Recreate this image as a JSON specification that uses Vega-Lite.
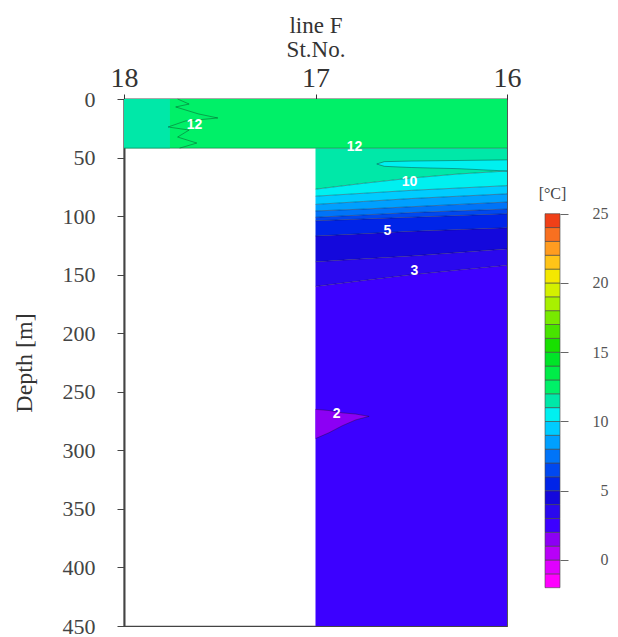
{
  "$schema": "https://vega.github.io/schema/vega-lite/v6.json",
  "background": "white",
  "padding": {"left": 11, "top": 13, "right": 5, "bottom": 5},
  "config": {"view": {"stroke": null}, "font": "Liberation Serif"},
  "spacing": 16,
  "datasets": {
    "bands": [
      {"key": 13, "part": "b13", "st": 18, "top": 0, "bot": 42},
      {"key": 13, "part": "b13", "st": 17, "top": 0, "bot": 42},
      {"key": 13, "part": "b13", "st": 16, "top": 0, "bot": 42},
      {"key": 12, "part": "b12", "st": 17, "top": 42, "bot": 77},
      {"key": 12, "part": "b12", "st": 16.75, "top": 42, "bot": 72},
      {"key": 12, "part": "b12", "st": 16.5, "top": 42, "bot": 67.5},
      {"key": 12, "part": "b12", "st": 16.25, "top": 42, "bot": 64},
      {"key": 12, "part": "b12", "st": 16, "top": 42, "bot": 61.5},
      {"key": 11, "part": "b11", "st": 17, "top": 77, "bot": 83},
      {"key": 11, "part": "b11", "st": 16.75, "top": 72, "bot": 80.5},
      {"key": 11, "part": "b11", "st": 16.5, "top": 67.5, "bot": 78},
      {"key": 11, "part": "b11", "st": 16.25, "top": 64, "bot": 76},
      {"key": 11, "part": "b11", "st": 16, "top": 61.5, "bot": 74},
      {"key": 10, "part": "b10", "st": 17, "top": 83, "bot": 90},
      {"key": 10, "part": "b10", "st": 16.75, "top": 80.5, "bot": 87.5},
      {"key": 10, "part": "b10", "st": 16.5, "top": 78, "bot": 85},
      {"key": 10, "part": "b10", "st": 16.25, "top": 76, "bot": 83},
      {"key": 10, "part": "b10", "st": 16, "top": 74, "bot": 81},
      {"key": 9, "part": "b09", "st": 17, "top": 90, "bot": 95.6},
      {"key": 9, "part": "b09", "st": 16.75, "top": 87.5, "bot": 94},
      {"key": 9, "part": "b09", "st": 16.5, "top": 85, "bot": 92},
      {"key": 9, "part": "b09", "st": 16.25, "top": 83, "bot": 90},
      {"key": 9, "part": "b09", "st": 16, "top": 81, "bot": 88},
      {"key": 8, "part": "b08", "st": 17, "top": 95.6, "bot": 101},
      {"key": 8, "part": "b08", "st": 16.75, "top": 94, "bot": 99},
      {"key": 8, "part": "b08", "st": 16.5, "top": 92, "bot": 97},
      {"key": 8, "part": "b08", "st": 16.25, "top": 90, "bot": 95.5},
      {"key": 8, "part": "b08", "st": 16, "top": 88, "bot": 94},
      {"key": 7, "part": "b07", "st": 17, "top": 101, "bot": 104},
      {"key": 7, "part": "b07", "st": 16.75, "top": 99, "bot": 102.5},
      {"key": 7, "part": "b07", "st": 16.5, "top": 97, "bot": 101},
      {"key": 7, "part": "b07", "st": 16.25, "top": 95.5, "bot": 99.5},
      {"key": 7, "part": "b07", "st": 16, "top": 94, "bot": 98},
      {"key": 6, "part": "b06", "st": 17, "top": 104, "bot": 117},
      {"key": 6, "part": "b06", "st": 16.75, "top": 102.5, "bot": 115},
      {"key": 6, "part": "b06", "st": 16.5, "top": 101, "bot": 113},
      {"key": 6, "part": "b06", "st": 16.25, "top": 99.5, "bot": 111.5},
      {"key": 6, "part": "b06", "st": 16, "top": 98, "bot": 110},
      {"key": 5, "part": "b05", "st": 17, "top": 117, "bot": 139},
      {"key": 5, "part": "b05", "st": 16.75, "top": 115, "bot": 136.5},
      {"key": 5, "part": "b05", "st": 16.5, "top": 113, "bot": 134},
      {"key": 5, "part": "b05", "st": 16.25, "top": 111.5, "bot": 131},
      {"key": 5, "part": "b05", "st": 16, "top": 110, "bot": 128},
      {"key": 4, "part": "b04", "st": 17, "top": 139, "bot": 160},
      {"key": 4, "part": "b04", "st": 16.75, "top": 136.5, "bot": 155},
      {"key": 4, "part": "b04", "st": 16.5, "top": 134, "bot": 150},
      {"key": 4, "part": "b04", "st": 16.25, "top": 131, "bot": 146},
      {"key": 4, "part": "b04", "st": 16, "top": 128, "bot": 142},
      {"key": 3, "part": "b03", "st": 17, "top": 160, "bot": 450},
      {"key": 3, "part": "b03", "st": 16.75, "top": 155, "bot": 450},
      {"key": 3, "part": "b03", "st": 16.5, "top": 150, "bot": 450},
      {"key": 3, "part": "b03", "st": 16.25, "top": 146, "bot": 450},
      {"key": 3, "part": "b03", "st": 16, "top": 142, "bot": 450}
    ],
    "tongues": [
      {"key": 12, "part": "tL", "st": 18, "top": 0, "bot": 42},
      {"key": 12, "part": "tL", "st": 17.76, "top": 0, "bot": 42},
      {"key": 11, "part": "t11", "st": 16.68, "top": 55.5, "bot": 55.5},
      {"key": 11, "part": "t11", "st": 16.64, "top": 53.5, "bot": 57.5},
      {"key": 11, "part": "t11", "st": 16.5, "top": 53, "bot": 58.5},
      {"key": 11, "part": "t11", "st": 16.25, "top": 52.5, "bot": 59.5},
      {"key": 11, "part": "t11", "st": 16, "top": 52, "bot": 61.5},
      {"key": 2, "part": "t2", "st": 17, "top": 265, "bot": 290},
      {"key": 2, "part": "t2", "st": 16.93, "top": 266, "bot": 285},
      {"key": 2, "part": "t2", "st": 16.86, "top": 268, "bot": 279},
      {"key": 2, "part": "t2", "st": 16.79, "top": 269, "bot": 274},
      {"key": 2, "part": "t2", "st": 16.72, "top": 271, "bot": 271}
    ],
    "lines": [
      {"c": "c12", "i": 0, "st": 18, "d": 42}, {"c": "c12", "i": 1, "st": 16, "d": 42},
      {"c": "c11", "i": 0, "st": 17, "d": 77}, {"c": "c11", "i": 1, "st": 16.75, "d": 72}, {"c": "c11", "i": 2, "st": 16.5, "d": 67.5}, {"c": "c11", "i": 3, "st": 16.25, "d": 64}, {"c": "c11", "i": 4, "st": 16, "d": 61.5},
      {"c": "c10", "i": 0, "st": 17, "d": 83}, {"c": "c10", "i": 1, "st": 16.75, "d": 80.5}, {"c": "c10", "i": 2, "st": 16.5, "d": 78}, {"c": "c10", "i": 3, "st": 16.25, "d": 76}, {"c": "c10", "i": 4, "st": 16, "d": 74},
      {"c": "c9", "i": 0, "st": 17, "d": 90}, {"c": "c9", "i": 1, "st": 16.75, "d": 87.5}, {"c": "c9", "i": 2, "st": 16.5, "d": 85}, {"c": "c9", "i": 3, "st": 16.25, "d": 83}, {"c": "c9", "i": 4, "st": 16, "d": 81},
      {"c": "c8", "i": 0, "st": 17, "d": 95.6}, {"c": "c8", "i": 1, "st": 16.75, "d": 94}, {"c": "c8", "i": 2, "st": 16.5, "d": 92}, {"c": "c8", "i": 3, "st": 16.25, "d": 90}, {"c": "c8", "i": 4, "st": 16, "d": 88},
      {"c": "c7", "i": 0, "st": 17, "d": 101}, {"c": "c7", "i": 1, "st": 16.75, "d": 99}, {"c": "c7", "i": 2, "st": 16.5, "d": 97}, {"c": "c7", "i": 3, "st": 16.25, "d": 95.5}, {"c": "c7", "i": 4, "st": 16, "d": 94},
      {"c": "c6", "i": 0, "st": 17, "d": 104}, {"c": "c6", "i": 1, "st": 16.75, "d": 102.5}, {"c": "c6", "i": 2, "st": 16.5, "d": 101}, {"c": "c6", "i": 3, "st": 16.25, "d": 99.5}, {"c": "c6", "i": 4, "st": 16, "d": 98},
      {"c": "c5", "i": 0, "st": 17, "d": 117}, {"c": "c5", "i": 1, "st": 16.75, "d": 115}, {"c": "c5", "i": 2, "st": 16.5, "d": 113}, {"c": "c5", "i": 3, "st": 16.25, "d": 111.5}, {"c": "c5", "i": 4, "st": 16, "d": 110},
      {"c": "c4", "i": 0, "st": 17, "d": 139}, {"c": "c4", "i": 1, "st": 16.75, "d": 136.5}, {"c": "c4", "i": 2, "st": 16.5, "d": 134}, {"c": "c4", "i": 3, "st": 16.25, "d": 131}, {"c": "c4", "i": 4, "st": 16, "d": 128},
      {"c": "c3", "i": 0, "st": 17, "d": 160}, {"c": "c3", "i": 1, "st": 16.75, "d": 155}, {"c": "c3", "i": 2, "st": 16.5, "d": 150}, {"c": "c3", "i": 3, "st": 16.25, "d": 146}, {"c": "c3", "i": 4, "st": 16, "d": 142},
      {"c": "t11", "i": 0, "st": 16, "d": 52}, {"c": "t11", "i": 1, "st": 16.25, "d": 52.5}, {"c": "t11", "i": 2, "st": 16.5, "d": 53}, {"c": "t11", "i": 3, "st": 16.64, "d": 53.5}, {"c": "t11", "i": 4, "st": 16.68, "d": 55.5}, {"c": "t11", "i": 5, "st": 16.64, "d": 57.5}, {"c": "t11", "i": 6, "st": 16.5, "d": 58.5}, {"c": "t11", "i": 7, "st": 16.25, "d": 59.5}, {"c": "t11", "i": 8, "st": 16, "d": 61.5},
      {"c": "t2", "i": 0, "st": 17, "d": 265}, {"c": "t2", "i": 1, "st": 16.93, "d": 266}, {"c": "t2", "i": 2, "st": 16.86, "d": 268}, {"c": "t2", "i": 3, "st": 16.79, "d": 269}, {"c": "t2", "i": 4, "st": 16.72, "d": 271}, {"c": "t2", "i": 5, "st": 16.79, "d": 274}, {"c": "t2", "i": 6, "st": 16.86, "d": 279}, {"c": "t2", "i": 7, "st": 16.93, "d": 285}, {"c": "t2", "i": 8, "st": 17, "d": 290},
      {"c": "jag", "i": 0, "st": 17.72, "d": 0}, {"c": "jag", "i": 1, "st": 17.66, "d": 4.3}, {"c": "jag", "i": 2, "st": 17.73, "d": 6.8}, {"c": "jag", "i": 3, "st": 17.61, "d": 12.8}, {"c": "jag", "i": 4, "st": 17.51, "d": 16.2}, {"c": "jag", "i": 5, "st": 17.68, "d": 18.8}, {"c": "jag", "i": 6, "st": 17.77, "d": 23.9}, {"c": "jag", "i": 7, "st": 17.66, "d": 26.5}, {"c": "jag", "i": 8, "st": 17.72, "d": 32.5}, {"c": "jag", "i": 9, "st": 17.62, "d": 37.6}, {"c": "jag", "i": 10, "st": 17.71, "d": 42}
    ],
    "labels": [
      {"t": "12", "st": 16.796, "d": 41},
      {"t": "10", "st": 16.509, "d": 71},
      {"t": "5", "st": 16.624, "d": 112.5},
      {"t": "3", "st": 16.483, "d": 147},
      {"t": "2", "st": 16.89, "d": 269},
      {"t": "12", "st": 17.632, "d": 22}
    ],
    "cbar": [
      {"lo": -2, "hi": -1}, {"lo": -1, "hi": 0}, {"lo": 0, "hi": 1}, {"lo": 1, "hi": 2}, {"lo": 2, "hi": 3},
      {"lo": 3, "hi": 4}, {"lo": 4, "hi": 5}, {"lo": 5, "hi": 6}, {"lo": 6, "hi": 7}, {"lo": 7, "hi": 8},
      {"lo": 8, "hi": 9}, {"lo": 9, "hi": 10}, {"lo": 10, "hi": 11}, {"lo": 11, "hi": 12}, {"lo": 12, "hi": 13},
      {"lo": 13, "hi": 14}, {"lo": 14, "hi": 15}, {"lo": 15, "hi": 16}, {"lo": 16, "hi": 17}, {"lo": 17, "hi": 18},
      {"lo": 18, "hi": 19}, {"lo": 19, "hi": 20}, {"lo": 20, "hi": 21}, {"lo": 21, "hi": 22}, {"lo": 22, "hi": 23},
      {"lo": 23, "hi": 24}, {"lo": 24, "hi": 25}
    ]
  },
  "hconcat": [
    {
      "width": 383,
      "height": 527,
      "view": {"stroke": "#444", "strokeWidth": 1.2},
      "encoding": {
        "x": {"field": "st", "type": "quantitative",
          "scale": {"domain": [16, 18], "reverse": true, "nice": false, "zero": false},
          "axis": {"orient": "top", "tickCount": 3, "tickMinStep": 1, "format": "d", "grid": false,
            "title": ["line F", "St.No."], "titleFont": "Liberation Serif", "titleFontSize": 23,
            "titleFontWeight": "normal", "titleColor": "#333", "titlePadding": 3, "titleLineHeight": 24,
            "labelFont": "Liberation Serif", "labelFontSize": 28, "labelColor": "#333", "labelPadding": 2,
            "labelFlush": false, "labelOverlap": false, "labelBound": false,
            "tickSize": 5, "tickColor": "#333", "domainColor": "#333", "domainWidth": 1.5}}
      },
      "layer": [
        {
          "data": {"name": "bands"},
          "mark": {"type": "area", "interpolate": "linear"},
          "encoding": {
            "y": {"field": "top", "type": "quantitative", "stack": null,
              "scale": {"domain": [0, 450], "reverse": true, "nice": false, "zero": false},
              "axis": {"values": [0, 50, 100, 150, 200, 250, 300, 350, 400, 450], "grid": false,
                "title": "Depth [m]", "titleFont": "Liberation Serif", "titleFontSize": 24, "titleFontWeight": "normal",
                "titleColor": "#333", "titlePadding": 26,
                "labelFont": "Liberation Serif", "labelFontSize": 22, "labelColor": "#444", "labelPadding": 22,
                "labelOverlap": false, "tickSize": 7, "tickColor": "#444", "domainColor": "#444", "domainWidth": 2}},
            "y2": {"field": "bot"},
            "color": {"field": "key", "type": "ordinal", "legend": null,
              "scale": {"domain": [-1, 0, 1, 2, 3, 4, 5, 6, 7, 8, 9, 10, 11, 12, 13, 14, 15, 16, 17, 18, 19, 20, 21, 22, 23, 24, 25],
                "range": ["#ff00ff", "#e000ff", "#b800f8", "#8c00f4", "#3c00ff", "#2a08ee", "#1408dc", "#0024e8", "#0048f0", "#0074f8", "#00a0ff", "#00ccff", "#00f0f0", "#00e8a8", "#00f068", "#00ec48", "#00e428", "#18e000", "#48e400", "#78ea00", "#a8f000", "#d4f000", "#f4e800", "#ffc418", "#ff9c20", "#f87020", "#f04018"]}},
            "detail": {"field": "part"}
          }
        },
        {
          "data": {"name": "tongues"},
          "mark": {"type": "area", "interpolate": "linear"},
          "encoding": {
            "y": {"field": "top", "type": "quantitative", "stack": null},
            "y2": {"field": "bot"},
            "color": {"field": "key", "type": "ordinal", "legend": null},
            "detail": {"field": "part"}
          }
        },
        {
          "data": {"name": "lines"},
          "mark": {"type": "line", "stroke": "#111", "strokeWidth": 0.7, "opacity": 0.5},
          "encoding": {
            "y": {"field": "d", "type": "quantitative"},
            "detail": {"field": "c"},
            "order": {"field": "i"}
          }
        },
        {
          "data": {"name": "labels"},
          "mark": {"type": "text", "font": "Liberation Sans", "fontWeight": "bold", "fontSize": 14, "color": "white", "align": "center", "baseline": "middle"},
          "encoding": {
            "y": {"field": "d", "type": "quantitative"},
            "text": {"field": "t"}
          }
        }
      ]
    },
    {
      "width": 15,
      "height": 527,
      "layer": [
        {
          "data": {"name": "cbar"},
          "mark": {"type": "rect", "stroke": "#444", "strokeWidth": 0.6},
          "encoding": {
            "x": {"datum": 0, "type": "quantitative", "scale": {"domain": [0, 1], "nice": false, "zero": false}, "axis": null},
            "x2": {"datum": 1},
            "y": {"field": "lo", "type": "quantitative",
              "scale": {"domain": [-4.765, 33.28], "nice": false, "zero": false},
              "axis": {"orient": "right", "values": [0, 5, 10, 15, 20, 25], "title": null, "domain": false, "grid": false,
                "tickSize": 8, "tickColor": "#666", "labelAlign": "right", "labelPadding": 40,
                "labelFont": "Liberation Serif", "labelFontSize": 16, "labelColor": "#555"}},
            "y2": {"field": "hi"},
            "color": {"field": "hi", "type": "ordinal", "legend": null,
              "scale": {"domain": [-1, 0, 1, 2, 3, 4, 5, 6, 7, 8, 9, 10, 11, 12, 13, 14, 15, 16, 17, 18, 19, 20, 21, 22, 23, 24, 25],
                "range": ["#ff00ff", "#e000ff", "#b800f8", "#8c00f4", "#3c00ff", "#2a08ee", "#1408dc", "#0024e8", "#0048f0", "#0074f8", "#00a0ff", "#00ccff", "#00f0f0", "#00e8a8", "#00f068", "#00ec48", "#00e428", "#18e000", "#48e400", "#78ea00", "#a8f000", "#d4f000", "#f4e800", "#ffc418", "#ff9c20", "#f87020", "#f04018"]}}
          }
        },
        {
          "data": {"values": [{"t": "[°C]", "v": 26.4, "x": 0.5}]},
          "mark": {"type": "text", "font": "Liberation Serif", "fontSize": 16, "color": "#444", "align": "center", "baseline": "middle"},
          "encoding": {
            "x": {"field": "x", "type": "quantitative"},
            "y": {"field": "v", "type": "quantitative"},
            "text": {"field": "t"}
          }
        }
      ]
    }
  ]
}
